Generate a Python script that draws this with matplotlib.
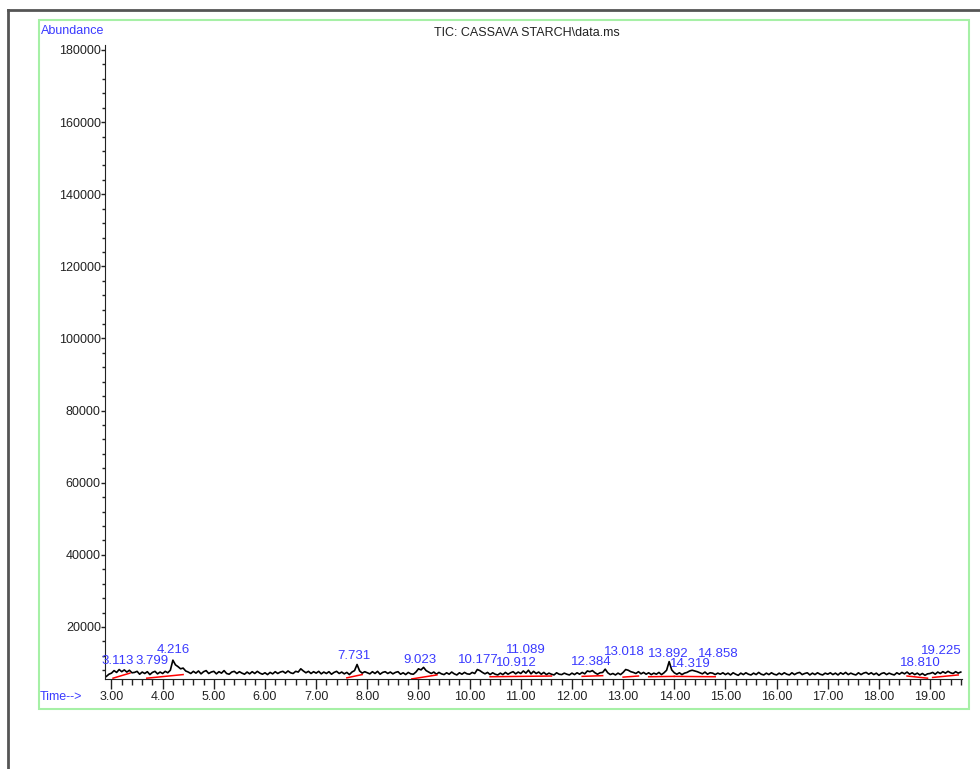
import matplotlib
matplotlib.use("Agg")
import matplotlib.pyplot as plt
import numpy as np
from matplotlib.lines import Line2D
from matplotlib.patches import Rectangle
from matplotlib.ticker import MultipleLocator, FormatStrFormatter

plt.rcParams['font.family'] = ['Liberation Sans', 'DejaVu Sans']

# TIC trace, sampled every 0.05 min from 2.90 to 19.60 (abundance in thousands)
tic_k = [
    6.3, 6.9,
    7.2, 7.9, 7.4, 8.2, 7.6, 8.1, 7.5, 8.0, 7.3, 7.4, 7.7, 6.9, 7.5, 7.1, 7.6, 6.8, 7.4, 7.7, 7.0, 7.5,   # 3
    7.1, 7.7, 7.3, 8.0, 10.8, 9.5, 9.0, 8.4, 8.6, 7.8, 7.5, 7.1, 7.7, 7.2, 7.8, 7.0, 7.6, 7.9, 7.1, 7.5,  # 4
    7.7, 7.0, 7.6, 7.2, 7.9, 7.1, 6.9, 7.5, 7.7, 7.1, 7.6, 7.2, 6.9, 7.5, 7.0, 7.6, 7.1, 7.7, 7.2, 6.9,   # 5
    7.3, 6.8, 7.4, 7.0, 7.6, 7.1, 7.5, 7.7, 7.2, 7.8, 7.3, 7.1, 7.7, 7.5, 8.4, 7.8, 7.3, 7.7, 7.1, 7.6,   # 6
    7.2, 7.7, 7.0, 7.5, 7.1, 7.6, 6.9, 7.4, 7.7, 7.1, 7.5, 7.0, 7.4, 6.8, 7.5, 7.9, 9.6, 7.8, 7.2, 7.6,   # 7
    7.3, 7.0, 7.6, 7.1, 7.7, 6.9, 7.4, 7.6, 7.1, 7.5, 7.0, 7.4, 7.6, 6.9, 7.3, 6.8, 7.4, 7.0, 6.9, 7.5,   # 8
    8.4, 8.1, 8.8, 7.9, 7.5, 7.1, 7.5, 6.9, 7.4, 7.0, 6.8, 7.3, 6.9, 7.5, 7.0, 6.7, 7.3, 6.9, 7.4, 7.0,   # 9
    6.9, 7.4, 7.1, 8.2, 7.9, 7.4, 7.0, 7.4, 6.8, 7.3, 6.9, 6.7, 7.2, 6.8, 7.4, 6.9, 7.3, 7.6, 7.0, 7.5,   # 10
    7.1, 7.8, 7.2, 8.0, 7.0, 7.7, 7.1, 7.5, 6.9, 7.4, 6.8, 7.2, 6.9, 6.7, 7.3, 6.9, 6.8, 7.2, 6.9, 6.7,   # 11
    7.2, 6.8, 7.3, 6.9, 7.4, 7.0, 7.8, 7.6, 7.9, 7.3, 6.9, 7.3, 7.4, 8.3, 7.3, 6.8, 7.1, 6.7, 7.2, 6.8,   # 12
    7.4, 8.2, 8.0, 7.6, 7.4, 7.1, 7.6, 7.0, 7.4, 6.9, 7.3, 6.8, 7.2, 6.9, 7.4, 6.8, 7.3, 8.0, 10.4, 8.1,  # 13
    7.3, 6.9, 7.3, 6.8, 7.2, 7.4, 7.8, 8.0, 7.8, 7.6, 7.3, 7.0, 7.5, 6.9, 7.3, 7.2, 6.8, 7.2, 6.9, 7.3,   # 14
    6.8, 7.2, 6.7, 7.3, 6.9, 6.6, 7.2, 6.8, 7.3, 6.9, 6.7, 7.2, 6.8, 7.4, 6.9, 6.7, 7.2, 6.8, 7.3, 6.9,   # 15
    6.7, 7.2, 6.8, 7.3, 6.9, 6.7, 7.3, 6.8, 7.2, 7.4, 6.8, 7.1, 7.3, 6.7, 7.2, 6.8, 7.3, 6.9, 6.7, 7.2,   # 16
    6.9, 7.3, 6.8, 7.2, 6.7, 7.3, 6.9, 7.4, 6.8, 7.2, 6.9, 6.7, 7.3, 6.8, 7.2, 7.4, 6.9, 7.3, 6.8, 7.2,   # 17
    6.6, 7.1, 7.3, 6.8, 7.2, 6.9, 6.7, 7.3, 6.9, 7.4, 7.0, 7.5, 6.9, 7.3, 6.8, 7.2, 6.7, 7.1, 6.6, 7.0,   # 18
    7.1, 7.4, 6.9, 7.5, 7.1, 7.6, 7.2, 7.7, 7.3, 7.1, 7.6, 7.2, 7.5,                                     # 19
]
times = np.round(2.90 + 0.05 * np.arange(len(tic_k)), 2)
abundance = np.array(tic_k) * 1000

# integration baselines (start time, start k, end time, end k)
base_t0 = [3.03, 3.69, 7.60, 8.87, 10.40, 12.20, 13.00, 13.50, 14.00, 18.55, 19.05]
base_y0 = [5.8, 5.8, 5.9, 5.6, 6.2, 6.3, 6.1, 6.2, 6.3, 6.4, 6.0]
base_t1 = [3.36, 4.40, 7.90, 9.36, 11.60, 12.60, 13.30, 14.00, 14.80, 18.95, 19.55]
base_y1 = [7.2, 6.8, 6.8, 6.7, 6.4, 6.5, 6.4, 6.3, 6.2, 5.8, 6.7]

# peak labels (crowded ones staggered in height)
peak_rt = [3.113, 3.799, 4.216, 7.731, 9.023, 10.177, 10.912, 11.089,
           12.384, 13.018, 13.892, 14.319, 14.858, 18.810, 19.225]
peak_label_k = [9.8, 9.8, 12.9, 11.1, 10.0, 10.0, 9.3, 12.9,
                9.5, 12.3, 11.8, 8.9, 11.8, 9.3, 12.5]

blue = '#3a3aff'

fig = plt.figure(figsize=(9.8, 7.69), dpi=100)
ax = fig.add_axes([105/980, 1-679/769, 857/980, 634/769])

ax.plot(times, abundance, color='black', lw=1.2)
for i in range(len(base_t0)):
    ax.plot([base_t0[i], base_t1[i]], [base_y0[i]*1000, base_y1[i]*1000], color='red', lw=1.1)

for rt, lk in zip(peak_rt, peak_label_k):
    ax.text(rt, lk*1000, "{:.3f}".format(rt), color=blue, ha='center', va='baseline',
            fontsize=9.5)

ax.set_xlim(2.873, 19.624)
ax.set_ylim(5574, 181380)
ax.xaxis.set_major_locator(MultipleLocator(1))
ax.xaxis.set_minor_locator(MultipleLocator(0.2))
ax.xaxis.set_major_formatter(FormatStrFormatter('%.2f'))
ax.yaxis.set_major_locator(MultipleLocator(20000))
ax.yaxis.set_minor_locator(MultipleLocator(4000))
ax.yaxis.set_major_formatter(FormatStrFormatter('%d'))
ax.tick_params(axis='x', which='major', direction='out', length=7, width=1, pad=2, labelsize=9, colors='#222222')
ax.tick_params(axis='x', which='minor', direction='out', length=4, width=1, colors='#222222')
ax.tick_params(axis='y', which='major', direction='out', length=3, width=1, pad=0, labelsize=9, colors='#222222')
ax.tick_params(axis='y', which='minor', direction='out', length=2, width=1, colors='#222222')
ax.spines['top'].set_visible(False)
ax.spines['right'].set_visible(False)
ax.spines['left'].set_color('#222222')
ax.spines['bottom'].set_color('#222222')
ax.patch.set_visible(False)

fig.text(41/980, 1-31/769, 'Abundance', color=blue, fontsize=9, va='center', ha='left')
fig.text(40/980, 1-697/769, 'Time-->', color=blue, fontsize=9, va='center', ha='left')
fig.text(527/980, 1-33/769, 'TIC: CASSAVA STARCH\\data.ms', color='#222222', fontsize=9, va='center', ha='center')

# page frame and green plot box
fig.add_artist(Line2D([8/980, 8/980], [0, 1-10/769], color='#555555', lw=2, transform=fig.transFigure))
fig.add_artist(Line2D([8/980, 1], [1-10/769, 1-10/769], color='#555555', lw=2, transform=fig.transFigure))
fig.add_artist(Rectangle((39/980, 1-709/769), 930/980, 689/769, fill=False, ec='#a6f0a6', lw=1.5,
                         transform=fig.transFigure))

fig.savefig('out.png', dpi=100)
